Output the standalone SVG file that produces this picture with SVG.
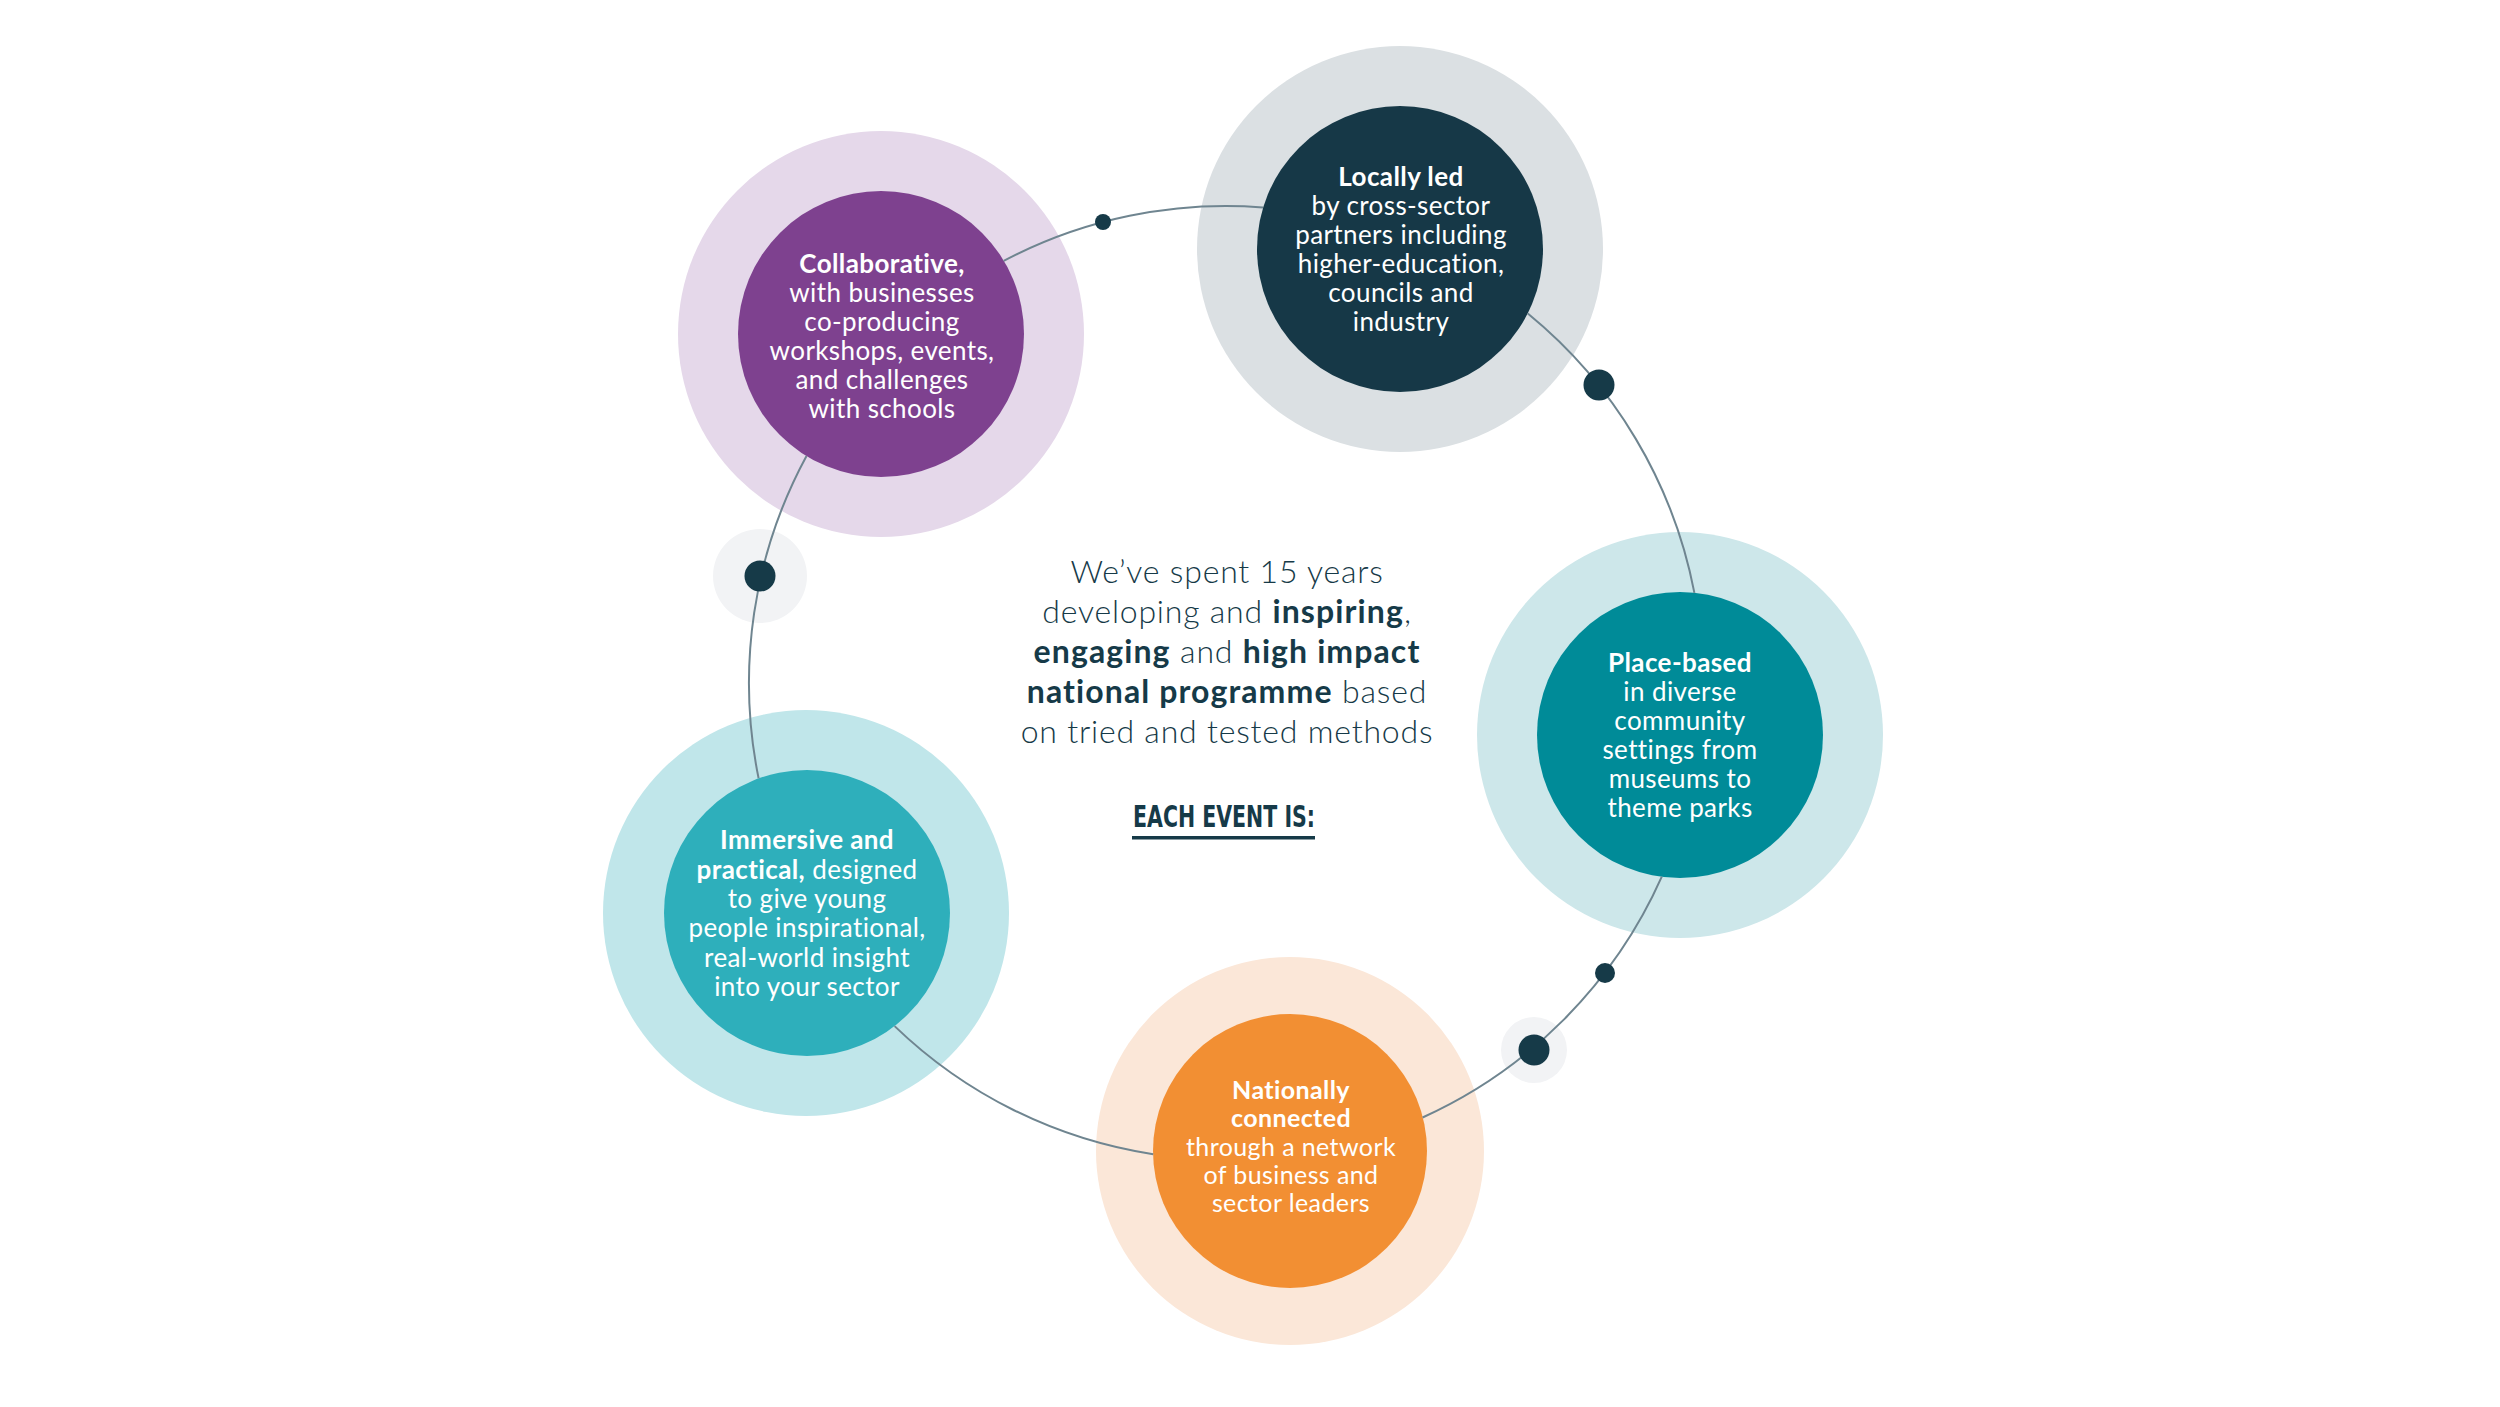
<svg xmlns="http://www.w3.org/2000/svg" width="2500" height="1407" viewBox="0 0 2500 1407">
<style>
.t{font-family:Lato,"Noto Sans","DejaVu Sans",sans-serif;font-size:26px;fill:#ffffff;text-anchor:middle;letter-spacing:0.4px}
.b{font-weight:700}
.c{font-family:Lato,"Noto Sans","DejaVu Sans",sans-serif;font-size:32px;font-weight:300;fill:#163a48;text-anchor:middle;letter-spacing:0.8px}
.cb{font-weight:700;letter-spacing:1.1px}
.ln{fill:none;stroke:#6f8590;stroke-width:2}
.dot{fill:#163a48}
.halo{fill:#f2f3f5}
</style>
<rect width="2500" height="1407" fill="#ffffff"/>
<g id="node-collaborative">
<circle cx="881" cy="334" r="203" fill="#e5d8ea"/>
<circle cx="881" cy="334" r="143" fill="#7e418f"/>
<text class="t" x="882" y="273"><tspan class="b">Collaborative,</tspan><tspan x="882" dy="29">with businesses</tspan><tspan x="882" dy="29">co-producing</tspan><tspan x="882" dy="29">workshops, events,</tspan><tspan x="882" dy="29">and challenges</tspan><tspan x="882" dy="29">with schools</tspan></text>
</g>
<g id="node-locally-led">
<circle cx="1400" cy="249" r="203" fill="#dbe0e3"/>
<circle cx="1400" cy="249" r="143" fill="#163847"/>
<text class="t" x="1401" y="186"><tspan class="b">Locally led</tspan><tspan x="1401" dy="29">by cross-sector</tspan><tspan x="1401" dy="29">partners including</tspan><tspan x="1401" dy="29">higher-education,</tspan><tspan x="1401" dy="29">councils and</tspan><tspan x="1401" dy="29">industry</tspan></text>
</g>
<g id="node-place-based">
<circle cx="1680" cy="735" r="203" fill="#cde7ea"/>
<circle cx="1680" cy="735" r="143" fill="#008b98"/>
<text class="t" x="1680" y="672"><tspan class="b">Place-based</tspan><tspan x="1680" dy="29">in diverse</tspan><tspan x="1680" dy="29">community</tspan><tspan x="1680" dy="29">settings from</tspan><tspan x="1680" dy="29">museums to</tspan><tspan x="1680" dy="29">theme parks</tspan></text>
</g>
<g id="node-nationally-connected">
<circle cx="1290" cy="1151" r="194" fill="#fbe7d8"/>
<circle cx="1290" cy="1151" r="137" fill="#f28f33"/>
<text class="t" x="1291" y="1099" style="font-size:25px"><tspan class="b">Nationally</tspan><tspan class="b" x="1291" dy="28">connected</tspan><tspan x="1291" dy="29">through a network</tspan><tspan x="1291" dy="28">of business and</tspan><tspan x="1291" dy="28">sector leaders</tspan></text>
</g>
<g id="node-immersive">
<circle cx="806" cy="913" r="203" fill="#c0e6ea"/>
<circle cx="807" cy="913" r="143" fill="#2eafbb"/>
<text class="t" x="807" y="849"><tspan class="b">Immersive and</tspan><tspan x="807" dy="30"><tspan class="b">practical,</tspan> designed</tspan><tspan x="807" dy="29">to give young</tspan><tspan x="807" dy="29">people inspirational,</tspan><tspan x="807" dy="30">real-world insight</tspan><tspan x="807" dy="29">into your sector</tspan></text>
</g>
<g id="center-text">
<text class="c" x="1227" y="583"><tspan>We’ve spent 15 years</tspan><tspan x="1227" dy="40">developing and <tspan class="cb">inspiring</tspan>,</tspan><tspan x="1227" dy="40"><tspan class="cb">engaging</tspan> and <tspan class="cb">high impact</tspan></tspan><tspan x="1227" dy="40"><tspan class="cb">national programme</tspan> based</tspan><tspan x="1227" dy="40">on tried and tested methods</tspan></text>
<text x="1224" y="827" text-anchor="middle" textLength="182" lengthAdjust="spacingAndGlyphs" style="font-family:'Liberation Sans Narrow','DejaVu Sans Condensed','DejaVu Sans',sans-serif;font-stretch:condensed;font-weight:700;font-size:30px;fill:#163a48">EACH EVENT IS:</text>
<rect x="1132" y="836" width="183" height="3.5" fill="#163a48"/>
</g>
<g id="connectors">
<circle class="halo" cx="760" cy="576" r="47"/>
<circle class="halo" cx="1534" cy="1050" r="33"/>
<path class="ln" d="M1003.7 260.9 A477 477 0 0 1 1263 207.4"/>
<path class="ln" d="M1527.8 313.6 A477 477 0 0 1 1694.4 592.9"/>
<path class="ln" d="M1661.8 876.7 A477 477 0 0 1 1422.6 1117.5"/>
<path class="ln" d="M1153.2 1154.3 A477 477 0 0 1 894.6 1026.1"/>
<path class="ln" d="M758.6 778.3 A477 477 0 0 1 806.5 455.9"/>
<circle class="dot" cx="1103" cy="222" r="8"/>
<circle class="dot" cx="1599" cy="385" r="15.5"/>
<circle class="dot" cx="1605" cy="973" r="10"/>
<circle class="dot" cx="1534" cy="1050" r="15.5"/>
<circle class="dot" cx="760" cy="576" r="15.5"/>
</g>
</svg>
